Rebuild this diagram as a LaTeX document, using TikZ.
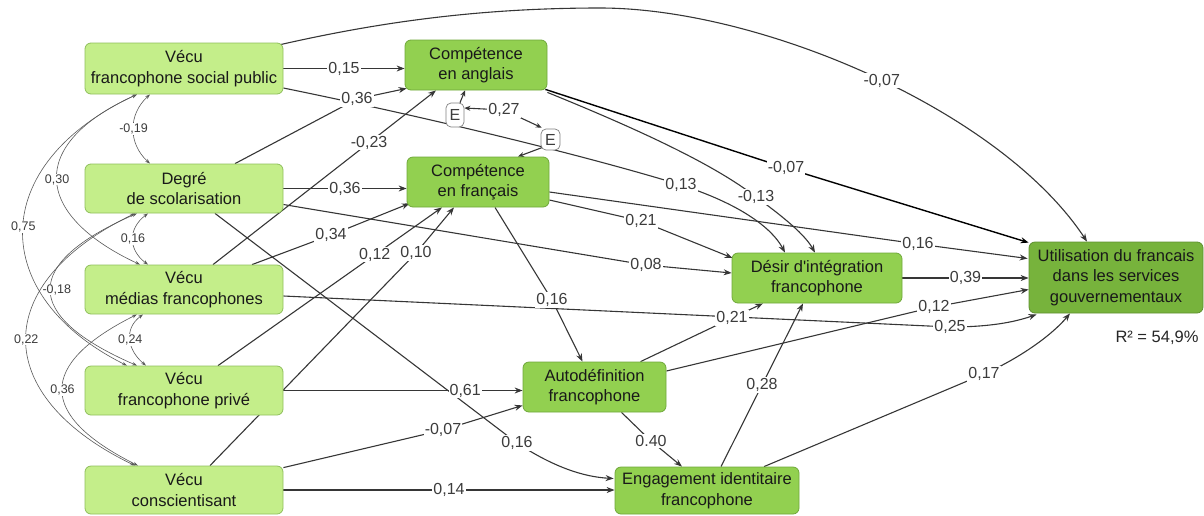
\documentclass[tikz,border=0pt]{standalone}
\usepackage{fontspec}
\setmainfont{Liberation Sans}[Ligatures=TeXOff]
\usetikzlibrary{arrows.meta,calc}
\definecolor{lightg}{HTML}{C4EE8A}
\definecolor{lightgb}{HTML}{8FBF5C}
\definecolor{midg}{HTML}{92D050}
\definecolor{midgb}{HTML}{6FA83A}
\definecolor{darkg}{HTML}{77B33C}
\definecolor{darkgb}{HTML}{5E9030}
\definecolor{edgec}{HTML}{363636}
\definecolor{lblc}{HTML}{3C3C3C}
\pgfdeclarelayer{background}
\pgfsetlayers{background,main}
\begin{document}
\begin{tikzpicture}[x=1pt,y=-1pt,
  box/.style={draw, rounded corners=6pt, align=center, font=\fontsize{16.5}{20.5}\selectfont, text=black!90, inner sep=0pt, line width=0.8pt},
  exo/.style={box, fill=lightg, draw=lightgb, minimum width=198pt, minimum height=49pt},
  endo/.style={box, fill=midg, draw=midgb},
  final/.style={box, fill=darkg, draw=darkgb},
  errbox/.style={draw=gray, fill=white, rounded corners=5pt, inner sep=0pt, line width=0.7pt, font=\fontsize{16}{16}\selectfont, text=lblc},
  arr/.style={draw=edgec, line width=1.1pt, -{Stealth[length=8pt,width=6pt]}},
  cov/.style={draw=gray!70!black, line width=0.6pt, {Stealth[length=5pt,width=3.5pt]}-{Stealth[length=5pt,width=3.5pt]}},
  lbl/.style={fill=white, inner sep=1pt, font=\fontsize{16}{16}\selectfont, text=lblc},
  slbl/.style={fill=white, inner sep=0.5pt, font=\fontsize{12.5}{12.5}\selectfont, text=lblc},
]
\useasboundingbox (0,0) rectangle (1204,515);

% nodes
\node[exo, minimum height=51pt] (vfsp) at (184,68.5) {Vécu\\francophone social public};
\node[exo] (deg) at (184,188.5) {Degré\\de scolarisation};
\node[exo] (vmf) at (184,289.5) {Vécu\\médias francophones};
\node[exo] (vfp) at (184,390.5) {Vécu\\francophone privé};
\node[exo, minimum height=48pt] (vc) at (184,490) {Vécu\\conscientisant};
\node[endo, minimum width=142pt, minimum height=50pt] (ca) at (476,65) {Compétence\\en anglais};
\node[endo, minimum width=142pt, minimum height=50pt] (cf) at (478,182) {Compétence\\en français};
\node[endo, minimum width=170pt, minimum height=50pt] (dif) at (817,278) {Désir d'intégration\\francophone};
\node[endo, minimum width=143pt, minimum height=50pt] (af) at (594.5,387) {Autodéfinition\\francophone};
\node[endo, minimum width=184pt, minimum height=47pt] (eif) at (707,490.5) {Engagement identitaire\\francophone};
\node[final, minimum width=174pt, minimum height=71pt] (uf) at (1116,277.5) {Utilisation du francais\\dans les services\\gouvernementaux};
\node[errbox, minimum width=18pt, minimum height=24pt] (e1) at (455,115) {E};
\node[errbox, minimum width=19pt, minimum height=21pt] (e2) at (550.5,139.5) {E};
\node[font=\fontsize{16.5}{20}\selectfont, text=black!85] (r2) at (1157,338) {R² = 54,9\%};

\begin{pgfonlayer}{background}
% covariances among exogenous variables
\draw[cov] ($(vfsp.south)+(-34,0)$) .. controls +(-22,20) and +(-22,-20) .. ($(deg.north)+(-34,0)$) node[slbl,pos=0.5]{-0,19};
\draw[cov] ($(vfsp.south)+(-47,0)$) .. controls +(-110,50) and +(-107,-50) .. ($(vmf.north)+(-44,0)$) node[slbl,pos=0.5]{0,30};
\draw[cov] ($(vfsp.south)+(-47,0)$) .. controls +(-150,70) and +(-140,-70) .. ($(vfp.north)+(-57,0)$) node[slbl,pos=0.49]{0,75};
\draw[cov] ($(deg.south)+(-36,0)$) .. controls +(-20,15) and +(-20,-15) .. ($(vmf.north)+(-36,0)$) node[slbl,pos=0.5]{0,16};
\draw[cov] ($(deg.south)+(-47,0)$) .. controls +(-115,50) and +(-115,-50) .. ($(vfp.north)+(-47,0)$) node[slbl,pos=0.5,xshift=6pt]{-0,18};
\draw[cov] ($(deg.south)+(-49,0)$) .. controls +(-145,70) and +(-145,-70) .. ($(vc.north)+(-49,0)$) node[slbl,pos=0.5]{0,22};
\draw[cov] ($(vmf.south)+(-41,0)$) .. controls +(-20,15) and +(-18,-15) .. ($(vfp.north)+(-38,0)$) node[slbl,pos=0.5]{0,24};
\draw[cov] ($(vmf.south)+(-47,0)$) .. controls +(-100,50) and +(-100,-50) .. ($(vc.north)+(-46,0)$) node[slbl,pos=0.5]{0,36};

% paths
\draw[arr] (vfsp.east) -- node[lbl]{0,15} (vfsp.east -| ca.west);
\draw[arr] ($(vfsp.north east)+(-3,2)$) .. controls (380,22) and (480,8) .. (600,8) .. controls (760,8) and (1000,110) .. ($(uf.north)+(-29,0)$) node[lbl,pos=0.52]{-0,07};
\draw[arr] ($(vfsp.east)+(0,19.5)$) .. controls (450,122) and (600,160) .. (681,185) node[lbl]{0,13} .. controls (740,204) and (772,228) .. ($(dif.north)+(-32,0)$);
\draw[arr] ($(deg.north)+(51,0)$) -- (357,99) node[lbl]{0,36} -- ($(ca.south west)+(2,-2)$);
\draw[arr] (deg.east) -- node[lbl]{0,36} (deg.east -| cf.west);
\draw[arr] ($(deg.east)+(0,16)$) -- (646,265) node[lbl]{0,08} -- ($(dif.west)+(0,-5)$);
\draw[arr] ($(deg.south)+(31,0)$) -- (517,443) node[lbl]{0,16} .. controls (555,468) and (585,477) .. ($(eif.west)+(-1,-12)$);
\draw[arr] ($(vmf.north)+(29,0)$) -- node[lbl,pos=0.7]{-0,23} ($(ca.south)+(-40,0)$);
\draw[arr] ($(vmf.north)+(68,0)$) -- (331,235) node[lbl]{0,34} -- ($(cf.south west)+(3,-4)$);
\draw[arr] ($(vmf.east)+(0,6.5)$) -- (950,327) node[lbl]{0,25} .. controls (990,327) and (1015,322) .. ($(uf.south west)+(8,1)$);
\draw[arr] ($(vfp.north)+(34,0)$) -- node[lbl,pos=0.7]{0,12} ($(cf.south)+(-36,0)$);
\draw[arr] (vfp.east) -- node[lbl,pos=0.76]{0,61} (vfp.east -| af.west);
\draw[arr] ($(vc.north)+(26,0)$) -- (416,253) node[lbl]{0,10} -- ($(cf.south)+(-24,0)$);
\draw[arr] ($(vc.north east)+(0,2)$) -- (443,430) node[lbl]{-0,07} -- ($(af.south west)+(0,-7)$);
\draw[arr] (vc.east) -- node[lbl,pos=0.5]{0,14} (vc.east -| eif.west);
\draw[arr, draw=black, line width=1.4pt] ($(ca.south east)+(-2,-1)$) -- (786,168) node[lbl]{-0,07} -- ($(uf.north west)+(0,1)$);
\draw[arr] ($(ca.south east)+(0,2)$) .. controls (640,130) and (715,165) .. (756,197) node[lbl]{-0,13} .. controls (785,218) and (805,235) .. ($(dif.north)+(-2,0)$);
\draw[arr] ($(cf.east)+(0,18)$) -- (641,221) node[lbl]{0,21} -- ($(dif.west)+(1,-20)$);
\draw[arr] ($(cf.east)+(0,10)$) -- (918,244) node[lbl]{0,16} -- ($(uf.west)+(-1,-19)$);
\draw[arr] ($(cf.south)+(17,0)$) -- (552,300) node[lbl]{0,16} -- ($(af.north)+(-12,0)$);
\draw[arr] ($(af.north)+(46,0)$) -- (732,318) node[lbl]{0,21} -- ($(dif.south)+(-54,0)$);
\draw[arr] ($(af.east)+(0,-16)$) -- (934,307) node[lbl]{0,12} -- ($(uf.west)+(0,12)$);
\draw[arr] ($(af.south)+(27,0)$) -- (651,441) node[lbl]{0.40} -- ($(eif.north)+(-25,0)$);
\draw[arr] ($(eif.north)+(14,0)$) -- node[lbl,pos=0.5]{0,28} ($(dif.south)+(-14,0)$);
\draw[arr] ($(eif.north)+(57,0)$) -- (984,374) node[lbl]{0,17} .. controls (1020,358) and (1052,335) .. ($(uf.south)+(-46,0)$);
\draw[arr] (dif.east) -- node[lbl]{0,39} (dif.east -| uf.west);
% error terms
\draw[arr, -{Stealth[length=6pt,width=5pt]}] ($(e1.north)+(5,0)$) -- ($(ca.south)+(-11,0)$);
\draw[arr, -{Stealth[length=6pt,width=5pt]}] ($(e2.south west)+(2,-3)$) -- ($(cf.north)+(40,0)$);
\draw[arr, {Stealth[length=6pt,width=5pt]}-{Stealth[length=6pt,width=5pt]}] ($(e1.east)+(0,-7)$) -- (504,110) node[lbl]{0,27} -- ($(e2.north west)+(1,-1)$);
\end{pgfonlayer}
\end{tikzpicture}
\end{document}
